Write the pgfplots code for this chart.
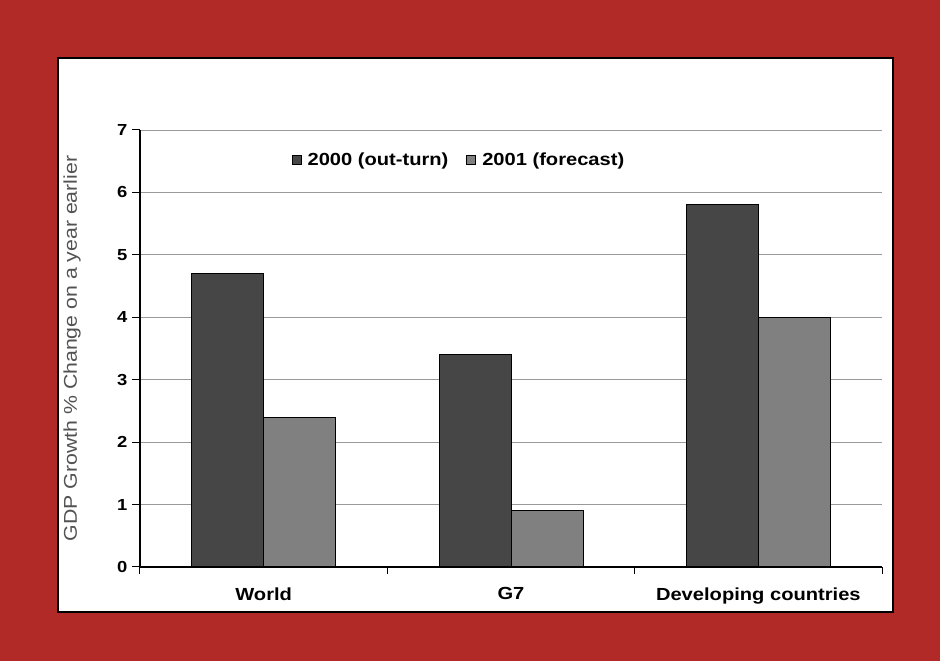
\documentclass[border=0pt]{standalone}
\usepackage{fontspec}
\setmainfont{Liberation Sans}[FakeStretch=1.15]
\usepackage{pgfplots}
\pgfplotsset{compat=1.18}
\definecolor{framered}{RGB}{178,42,40}
\definecolor{darkbar}{RGB}{70,70,70}
\definecolor{lightbar}{RGB}{128,128,128}
\begin{document}
\begin{tikzpicture}[x=1pt,y=1pt]
\useasboundingbox (0,0) rectangle (940,661);
\fill[framered] (0,0) rectangle (940,661);
\filldraw[fill=white,draw=black,line width=1.2pt] (58,49) rectangle (893,603);
\begin{axis}[
  at={(140pt,94pt)}, anchor=south west,
  scale only axis, width=742pt, height=437pt,
  xmin=-0.5, xmax=2.5, ymin=0, ymax=7,
  ybar=0pt, bar width=72pt,
  axis x line=bottom, axis y line=left,
  axis line style={-, line width=1.3pt, black},
  xtick={0,1,2},
  xticklabels={World,G7,Developing countries},
  major x tick style={draw=none},
  minor xtick={-0.5,0.5,1.5,2.5},
  minor x tick style={black, line width=1pt},
  minor tick length=7pt,
  ytick={0,1,...,7},
  major y tick style={black, line width=1pt},
  major tick length=8pt,
  tick align=outside,
  ymajorgrids,
  grid style={black!40, line width=0.9pt},
  /pgf/number format/assume math mode=true,
  yticklabel style={font=\bfseries\fontsize{16}{16}\selectfont, xshift=-1pt},
  xticklabel style={font=\bfseries\fontsize{17.5}{18}\selectfont, yshift=-9pt},
  ylabel={GDP Growth \% Change on a year earlier},
  ylabel style={at={(axis description cs:-0.0916,0.5)}, anchor=center,
    font=\fontsize{18.5}{19}\selectfont, text=black!68},
  legend style={at={(0.43,0.931)}, anchor=center, draw=none, fill=none,
    font=\bfseries\fontsize{17.5}{18}\selectfont,
    legend columns=2,
    /tikz/every odd column/.append style={column sep=4pt},
    /tikz/every even column/.append style={column sep=16pt}},
  legend image code/.code={\draw[#1, line width=0.8pt] (0pt,-4.5pt) rectangle (9pt,4.5pt);},
]
\addplot[fill=darkbar, draw=black, line width=1pt] coordinates {(0,4.7) (1,3.4) (2,5.8)};
\addplot[fill=lightbar, draw=black, line width=1pt] coordinates {(0,2.4) (1,0.9) (2,4.0)};
\legend{2000 (out-turn), 2001 (forecast)}
\end{axis}
\end{tikzpicture}
\end{document}
